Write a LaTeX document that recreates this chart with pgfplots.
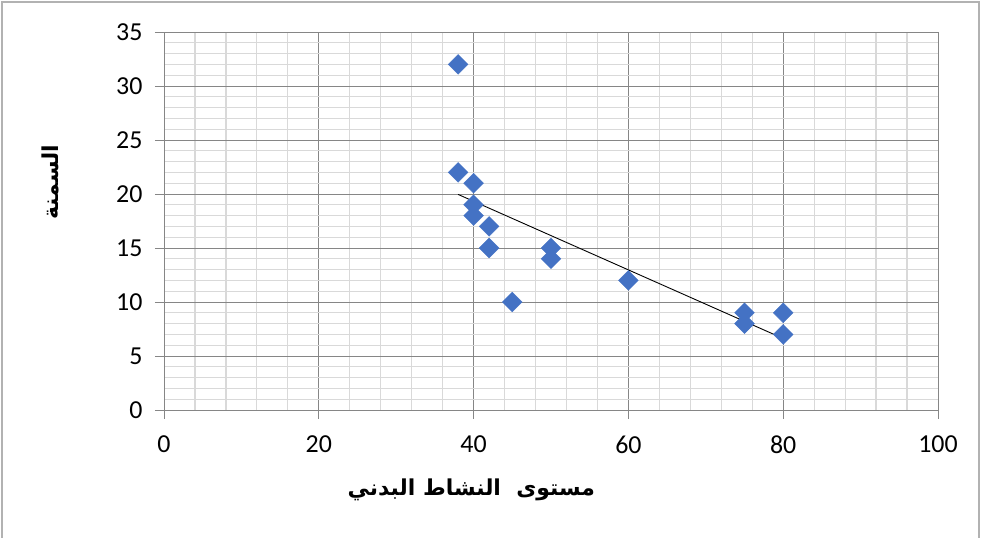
\documentclass[border=0pt]{standalone}
\usepackage{pgfplots}
\pgfplotsset{compat=1.18}
\usepackage{fontspec}
\setmainfont{Carlito}
\newfontfamily\arabicfont[Script=Arabic]{DejaVu Sans}
\TeXXeTstate=1

\definecolor{excelblue}{RGB}{68,114,196}
\definecolor{majgrid}{RGB}{134,134,134}
\definecolor{mingrid}{RGB}{217,217,217}

\begin{document}
\begin{tikzpicture}[x=1bp,y=1bp]
\useasboundingbox (-164,-128) rectangle (817,410);
\draw[gray!60, line width=1.5bp] (-162,-128) -- (-162,408) -- (815,408) -- (815,-128);
\begin{axis}[
    at={(0,0)}, anchor=south west,
    scale only axis,
    width=774bp, height=378bp,
    xmin=0, xmax=100,
    ymin=0, ymax=35,
    xtick={0,20,40,60,80,100},
    ytick={0,5,10,15,20,25,30,35},
    minor x tick num=4,
    minor y tick num=4,
    grid=both,
    major grid style={majgrid, line width=0.8bp},
    minor grid style={mingrid, line width=1.2bp},
    axis line style={majgrid, line width=0.8bp},
    tick style={majgrid, line width=0.8bp},
    major tick length=9bp,
    minor tick length=0pt,
    tick align=outside,
    xtick pos=bottom, ytick pos=left,
    tick label style={font=\fontsize{26}{30}\selectfont, black},
    /pgf/number format/assume math mode=true,
    xticklabel style={yshift=-13bp},
    yticklabel style={xshift=-9bp},
    xlabel={\arabicfont\bfseries\beginR مستوى\ \ النشاط البدني\endR},
    ylabel={\arabicfont\bfseries\beginR السمنة\endR},
    label style={font=\fontsize{22}{26}\selectfont},
    xlabel style={at={(axis description cs:0.397,-0.211)}, anchor=center},
    ylabel style={at={(axis description cs:-0.147,0.603)}, anchor=center},
]
\addplot[only marks, mark=square*, mark size=7bp,
    mark options={rotate=45, fill=excelblue, draw=excelblue}]
    coordinates {
    (38,32)(38,22)(40,21)(40,19)(40,18)(42,17)(42,15)(45,10)
    (50,15)(50,14)(60,12)(75,9)(75,8)(80,9)(80,7)
    };
\addplot[black, line width=0.9bp] coordinates {(38,19.96)(80,6.62)};
\end{axis}
\end{tikzpicture}
\end{document}
